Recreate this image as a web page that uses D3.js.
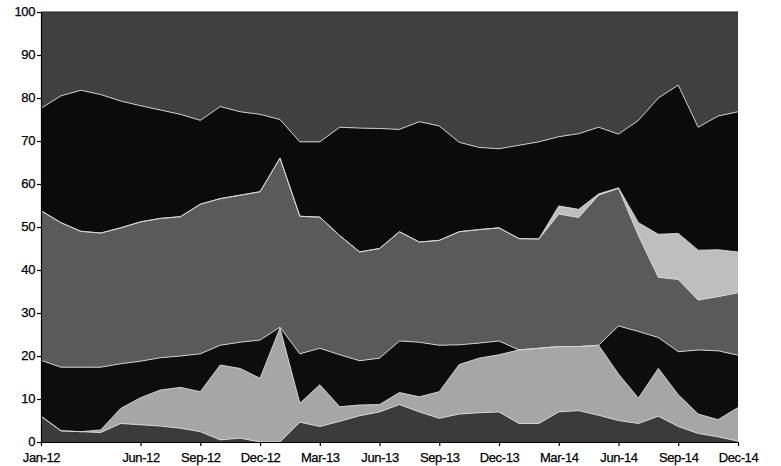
<!DOCTYPE html>
<html>
<head>
<meta charset="utf-8">
<script src="https://cdnjs.cloudflare.com/ajax/libs/d3/7.8.5/d3.min.js"></script>
<style>
  body { margin: 0; background: #fff; }
  .axis text { font-family: Arial, "Liberation Sans", sans-serif; font-size: 13px; fill: #000; letter-spacing: -0.4px; stroke: #000; stroke-width: 0.25px; }
  .axis path, .axis line { stroke: #000; stroke-width: 1.2; }
</style>
</head>
<body>
<div id="chart"></div>
<script>
// monthly shares (percent), bottom layer first
var months = ["Jan-12","Feb-12","Mar-12","Apr-12","May-12","Jun-12","Jul-12","Aug-12","Sep-12","Oct-12","Nov-12","Dec-12",
  "Jan-13","Feb-13","Mar-13","Apr-13","May-13","Jun-13","Jul-13","Aug-13","Sep-13","Oct-13","Nov-13","Dec-13",
  "Jan-14","Feb-14","Mar-14","Apr-14","May-14","Jun-14","Jul-14","Aug-14","Sep-14","Oct-14","Nov-14","Dec-14"];
var tickLabels = ["Jan-12","Jun-12","Sep-12","Dec-12","Mar-13","Jun-13","Sep-13","Dec-13","Mar-14","Jun-14","Sep-14","Dec-14"];

var series1 = [6, 2.6, 2.4, 2.2, 4.3, 4, 3.7, 3.2, 2.4, 0.5, 0.9, 0, 0, 4.6, 3.6, 4.8, 6.1, 7, 8.7, 7, 5.5, 6.5, 6.8, 7, 4.3, 4.3, 7, 7.3, 6.2, 5, 4.3, 6, 3.6, 2, 1.2, 0.2];
var series2 = [0, 0, 0, 0.6, 3.5, 6.3, 8.4, 9.5, 9.3, 17.4, 16.2, 14.8, 26.5, 4.4, 9.7, 3.4, 2.5, 1.7, 2.8, 3.5, 6.2, 11.5, 12.7, 13.3, 17.1, 17.5, 15.2, 14.9, 16.3, 10.8, 5.9, 11.1, 7.4, 4.5, 4, 7.8];
var series3 = [13, 14.8, 15, 14.6, 10.4, 8.5, 7.5, 7.3, 8.8, 4.6, 6.1, 8.9, 0.2, 11.5, 8.5, 12.1, 10.3, 10.8, 12, 12.7, 10.8, 4.6, 3.5, 3.2, 0, 0, 0, 0, 0, 11.2, 15.5, 7.2, 10, 14.9, 16, 12.2];
var series4 = [34.8, 33.6, 31.6, 31.2, 31.6, 32.4, 32.4, 32.4, 34.8, 34.1, 34.2, 34.5, 39.3, 32, 30.5, 27.7, 25.3, 25.5, 25.4, 23.3, 24.4, 26.3, 26.4, 26.3, 25.9, 25.4, 30.8, 30, 34.9, 32, 22.3, 14, 16.8, 11.6, 12.6, 14.5];
var series5 = [0, 0, 0, 0, 0, 0, 0, 0, 0, 0, 0, 0, 0, 0, 0, 0, 0, 0, 0, 0, 0, 0, 0, 0, 0, 0, 1.9, 1.9, 0.3, 0.1, 3, 10, 10.7, 11.6, 10.9, 9.5];
var series6 = [23.8, 29.5, 32.8, 32.2, 29.5, 27, 25.2, 23.8, 19.5, 21.4, 19.4, 18, 9, 17.3, 17.5, 25.2, 28.8, 27.9, 23.8, 28, 26.6, 20.8, 19.1, 18.4, 21.7, 22.6, 16.1, 17.6, 15.5, 12.5, 23.8, 31.7, 34.5, 28.6, 31.1, 32.6];
var series7 = [22.4, 19.5, 18.2, 19.2, 20.7, 21.8, 22.8, 23.8, 25.2, 22, 23.2, 23.8, 25, 30.2, 30.2, 26.8, 27, 27.1, 27.3, 25.5, 26.5, 30.3, 31.5, 31.8, 31, 30.2, 29, 28.3, 26.8, 28.4, 25.2, 20, 17, 26.8, 24.2, 23.2];

var keys = ["s1", "s2", "s3", "s4", "s5", "s6", "s7"];
var colors = ["#3b3b3b", "#a6a6a6", "#0d0d0d", "#5a5a5a", "#bebebe", "#0b0b0b", "#404040"];

var data = months.map(function (m, i) {
  return { month: m, i: i, s1: series1[i], s2: series2[i], s3: series3[i], s4: series4[i],
           s5: series5[i], s6: series6[i], s7: series7[i] };
});

var width = 781, height = 466;
var margin = { top: 12, right: 43, bottom: 24, left: 41 };

var svg = d3.select("#chart").append("svg").attr("width", width).attr("height", height);

var x = d3.scaleLinear().domain([0, months.length - 1]).range([margin.left, width - margin.right]);
var y = d3.scaleLinear().domain([0, 100]).range([height - margin.bottom, margin.top]);
var z = d3.scaleOrdinal().domain(keys).range(colors);

var stacked = d3.stack().keys(keys)(data);

var area = d3.area()
  .x(function (d) { return x(d.data.i); })
  .y0(function (d) { return y(d[0]); })
  .y1(function (d) { return y(Math.min(d[1], 100)); });

svg.append("g").selectAll("path").data(stacked).enter().append("path")
  .attr("d", area)
  .attr("fill", function (d) { return z(d.key); });

// light boundary lines between layers
var topLine = d3.line()
  .x(function (d) { return x(d.data.i); })
  .y(function (d) { return y(d[1]); });

svg.append("g").selectAll("path").data(stacked.slice(0, 6)).enter().append("path")
  .attr("d", topLine)
  .attr("fill", "none")
  .attr("stroke", "#d8d8d8")
  .attr("stroke-width", 0.9);

// top frame line
svg.append("line")
  .attr("x1", x(0)).attr("x2", x(months.length - 1))
  .attr("y1", y(100)).attr("y2", y(100))
  .attr("stroke", "#222").attr("stroke-width", 1);

var tickIdx = tickLabels.map(function (t) { return months.indexOf(t); });

svg.append("g").attr("class", "axis")
  .attr("transform", "translate(0," + y(0) + ")")
  .call(d3.axisBottom(x).tickValues(tickIdx).tickSize(4).tickSizeOuter(0)
    .tickFormat(function (d) { return months[d]; }))
  .selectAll("text").attr("dy", "1em");

svg.append("g").attr("class", "axis")
  .attr("transform", "translate(" + x(0) + ",0)")
  .call(d3.axisLeft(y).tickValues(d3.range(0, 101, 10)).tickSize(4).tickPadding(2).tickSizeOuter(0))
  .selectAll("text").attr("dy", "0.28em");
</script>
</body>
</html>
